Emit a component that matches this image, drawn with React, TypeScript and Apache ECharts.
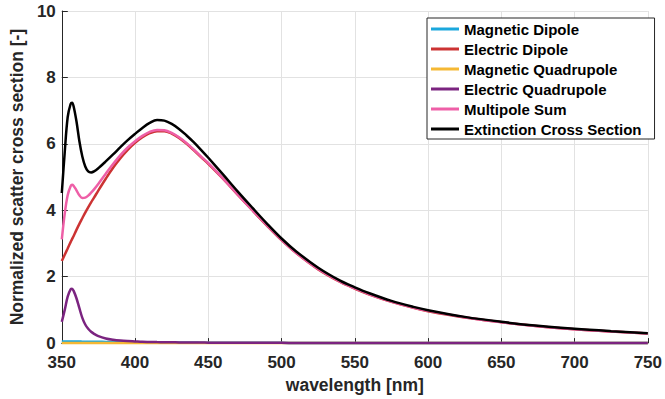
import React, { useEffect, useRef } from "react";
import * as echarts from "echarts";

const wavelength = [350, 352, 354, 356, 357, 358, 360, 362, 364, 366, 368, 370, 372, 375, 380, 385, 390, 395, 400, 405, 410, 415, 420, 425, 430, 435, 440, 445, 450, 460, 470, 480, 490, 500, 510, 525, 540, 550, 560, 575, 590, 600, 625, 650, 675, 700, 725, 750];

const magneticDipole = [0.05, 0.05, 0.049, 0.048, 0.048, 0.047, 0.046, 0.045, 0.044, 0.043, 0.042, 0.041, 0.04, 0.038, 0.036, 0.033, 0.031, 0.029, 0.027, 0.025, 0.023, 0.021, 0.02, 0.018, 0.017, 0.016, 0.015, 0.014, 0.013, 0.011, 0.01, 0.009, 0.008, 0.007, 0.006, 0.005, 0.004, 0.004, 0.003, 0.003, 0.003, 0.002, 0.002, 0.002, 0.001, 0.001, 0.001, 0.001];

const electricDipole = [2.47, 2.66, 2.85, 3.04, 3.13, 3.22, 3.41, 3.59, 3.76, 3.93, 4.09, 4.24, 4.38, 4.6, 4.95, 5.28, 5.57, 5.82, 6.03, 6.2, 6.32, 6.38, 6.38, 6.31, 6.18, 6.01, 5.81, 5.6, 5.4, 4.95, 4.47, 4.0, 3.54, 3.1, 2.71, 2.22, 1.84, 1.64, 1.46, 1.24, 1.06, 0.96, 0.77, 0.63, 0.51, 0.42, 0.35, 0.29];

const magneticQuadrupole = [0.006, 0.006, 0.006, 0.005, 0.005, 0.005, 0.005, 0.005, 0.004, 0.004, 0.004, 0.004, 0.003, 0.003, 0.003, 0.002, 0.002, 0.002, 0.002, 0.001, 0.001, 0.001, 0.001, 0.001, 0.001, 0.001, 0.001, 0.001, 0.001, 0, 0, 0, 0, 0, 0, 0, 0, 0, 0, 0, 0, 0, 0, 0, 0, 0, 0, 0];

const electricQuadrupole = [0.64, 1.0, 1.4, 1.62, 1.64, 1.58, 1.35, 1.05, 0.76, 0.56, 0.43, 0.34, 0.28, 0.21, 0.14, 0.1, 0.075, 0.06, 0.05, 0.04, 0.035, 0.03, 0.027, 0.024, 0.021, 0.019, 0.017, 0.015, 0.014, 0.012, 0.01, 0.009, 0.008, 0.007, 0.006, 0.005, 0.004, 0.004, 0.003, 0.003, 0.002, 0.002, 0.002, 0.001, 0.001, 0.001, 0.001, 0.001];

const multipoleSum = [3.12, 3.9, 4.45, 4.72, 4.77, 4.74, 4.6, 4.45, 4.37, 4.38, 4.44, 4.53, 4.63, 4.8, 5.1, 5.39, 5.66, 5.89, 6.08, 6.24, 6.36, 6.42, 6.41, 6.33, 6.2, 6.03, 5.83, 5.62, 5.42, 4.96, 4.48, 4.01, 3.55, 3.11, 2.72, 2.23, 1.85, 1.65, 1.47, 1.25, 1.07, 0.97, 0.78, 0.63, 0.51, 0.42, 0.35, 0.29];

const extinction = [4.52, 5.75, 6.8, 7.2, 7.24, 7.14, 6.68, 6.08, 5.62, 5.32, 5.17, 5.14, 5.17, 5.27, 5.47, 5.68, 5.9, 6.11, 6.3, 6.48, 6.63, 6.72, 6.7, 6.6, 6.45, 6.26, 6.05, 5.82, 5.58, 5.08, 4.57, 4.08, 3.6, 3.15, 2.76, 2.27, 1.88, 1.68, 1.5, 1.27, 1.09, 0.99, 0.79, 0.64, 0.52, 0.43, 0.36, 0.3];

const seriesNames = ["Magnetic Dipole", "Electric Dipole", "Magnetic Quadrupole", "Electric Quadrupole", "Multipole Sum", "Extinction Cross Section"];
const seriesColors = ["#1ba7dc", "#cc3333", "#f5b834", "#7b2480", "#ee5fa7", "#000000"];
const seriesValues = [magneticDipole, electricDipole, magneticQuadrupole, electricQuadrupole, multipoleSum, extinction];

const xName = "wavelength [nm]";
const yName = "Normalized scatter cross section [-]";

export default function App() {
  const ref = useRef<HTMLDivElement>(null);
  useEffect(() => {
    const chart = echarts.init(ref.current!, null, { renderer: "svg" });
    const font = "'Liberation Sans', Arial, Helvetica, sans-serif";
    const axisColor = "#262626";
    const series = seriesNames.map((name, k) => ({
      name,
      type: "line",
      data: wavelength.map((w, i) => [w, seriesValues[k][i]]),
      showSymbol: false,
      symbol: "none",
      smooth: 0.35,
      clip: false,
      lineStyle: { color: seriesColors[k], width: 2.5 },
      itemStyle: { color: seriesColors[k] },
    }));
    chart.setOption({
      animation: false,
      backgroundColor: "#ffffff",
      grid: { left: 53, right: 14, top: 11, bottom: 55, containLabel: false },
      xAxis: {
        type: "value",
        min: 350,
        max: 750,
        interval: 50,
        name: xName,
        nameLocation: "middle",
        nameGap: 32,
        nameTextStyle: { fontFamily: font, fontSize: 17.5, fontWeight: "bold", color: axisColor },
        axisLine: { show: true, onZero: false, lineStyle: { color: axisColor, width: 1 } },
        axisTick: { show: true, inside: true, length: 5, lineStyle: { color: axisColor } },
        axisLabel: { fontFamily: font, fontSize: 17, fontWeight: "bold", color: axisColor, margin: 11 },
        splitLine: { show: true, lineStyle: { color: "#e2e2e2", width: 1 } },
      },
      yAxis: {
        type: "value",
        min: 0,
        max: 10,
        interval: 2,
        name: yName,
        nameLocation: "middle",
        nameGap: 33,
        nameTextStyle: { fontFamily: font, fontSize: 17.5, fontWeight: "bold", color: axisColor },
        axisLine: { show: true, onZero: false, lineStyle: { color: axisColor, width: 1 } },
        axisTick: { show: true, inside: true, length: 6, lineStyle: { color: axisColor } },
        axisLabel: { fontFamily: font, fontSize: 17, fontWeight: "bold", color: axisColor, margin: 6 },
        splitLine: { show: true, lineStyle: { color: "#e2e2e2", width: 1 } },
      },
      legend: {
        orient: "vertical",
        left: 427,
        top: 18,
        data: seriesNames,
        icon: "rect",
        itemWidth: 28,
        itemHeight: 3,
        itemGap: 4,
        padding: [3, 13, 2, 4],
        borderColor: axisColor,
        borderWidth: 1,
        backgroundColor: "#ffffff",
        textStyle: { fontFamily: font, fontSize: 15, fontWeight: "bold", color: "#000000", lineHeight: 16 },
      },
      series,
    });
    return () => chart.dispose();
  }, []);
  return <div ref={ref} style={{ position: "fixed", left: 0, top: 0, width: 665, height: 399 }} />;
}
